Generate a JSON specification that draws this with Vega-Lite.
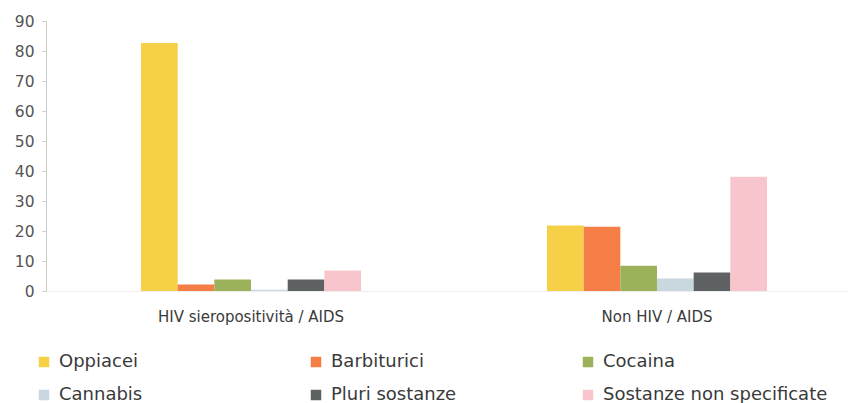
{
  "$schema": "https://vega.github.io/schema/vega-lite/v6.json",
  "autosize": "none",
  "width": 816,
  "height": 270,
  "padding": {"left": 46, "top": 21, "right": 0, "bottom": 112},
  "background": "white",
  "config": {
    "view": {"stroke": null},
    "font": "DejaVu Sans"
  },
  "data": {
    "values": [
      {"gruppo": "HIV sieropositività / AIDS", "sostanza": "Oppiacei", "valore": 82.7},
      {"gruppo": "HIV sieropositività / AIDS", "sostanza": "Barbiturici", "valore": 2.2},
      {"gruppo": "HIV sieropositività / AIDS", "sostanza": "Cocaina", "valore": 3.8},
      {"gruppo": "HIV sieropositività / AIDS", "sostanza": "Cannabis", "valore": 0.4},
      {"gruppo": "HIV sieropositività / AIDS", "sostanza": "Pluri sostanze", "valore": 3.8},
      {"gruppo": "HIV sieropositività / AIDS", "sostanza": "Sostanze non specificate", "valore": 6.8},
      {"gruppo": "Non HIV / AIDS", "sostanza": "Oppiacei", "valore": 21.8},
      {"gruppo": "Non HIV / AIDS", "sostanza": "Barbiturici", "valore": 21.4},
      {"gruppo": "Non HIV / AIDS", "sostanza": "Cocaina", "valore": 8.4},
      {"gruppo": "Non HIV / AIDS", "sostanza": "Cannabis", "valore": 4.2},
      {"gruppo": "Non HIV / AIDS", "sostanza": "Pluri sostanze", "valore": 6.2},
      {"gruppo": "Non HIV / AIDS", "sostanza": "Sostanze non specificate", "valore": 38.1}
    ]
  },
  "mark": {"type": "bar"},
  "encoding": {
    "x": {
      "field": "gruppo",
      "type": "nominal",
      "sort": null,
      "scale": {"paddingInner": 0.458, "paddingOuter": 0.234},
      "axis": {
        "title": null,
        "labelAngle": 0,
        "labelFontSize": 15,
        "labelColor": "#3a3a3a",
        "labelPadding": 18,
        "labelLimit": 400,
        "ticks": false,
        "domainColor": "#eeeeee",
        "labelFont": "DejaVu Sans"
      }
    },
    "xOffset": {
      "field": "sostanza",
      "type": "nominal",
      "sort": ["Oppiacei", "Barbiturici", "Cocaina", "Cannabis", "Pluri sostanze", "Sostanze non specificate"],
      "scale": {"paddingInner": 0, "paddingOuter": 0}
    },
    "y": {
      "field": "valore",
      "type": "quantitative",
      "scale": {"domain": [0, 90], "nice": false},
      "axis": {
        "title": null,
        "values": [0, 10, 20, 30, 40, 50, 60, 70, 80, 90],
        "grid": false,
        "labelFontSize": 15.5,
        "labelColor": "#555555",
        "labelPadding": 8,
        "tickSize": 4,
        "tickColor": "#cccccc",
        "domainColor": "#cccccc",
        "labelFont": "DejaVu Sans"
      }
    },
    "color": {
      "field": "sostanza",
      "type": "nominal",
      "sort": ["Oppiacei", "Barbiturici", "Cocaina", "Cannabis", "Pluri sostanze", "Sostanze non specificate"],
      "scale": {
        "domain": ["Oppiacei", "Barbiturici", "Cocaina", "Cannabis", "Pluri sostanze", "Sostanze non specificate"],
        "range": ["#F6D047", "#F47E45", "#9BB25B", "#C9D7DE", "#5F6263", "#F7C5CB"]
      },
      "legend": {
        "title": null,
        "orient": "none",
        "legendX": -11,
        "legendY": 332,
        "direction": "horizontal",
        "columns": 3,
        "gridAlign": "all",
        "columnPadding": 23,
        "rowPadding": 15,
        "symbolType": "square",
        "symbolSize": 110,
        "symbolStrokeWidth": 0,
        "labelFontSize": 18,
        "labelColor": "#3a3a3a",
        "labelOffset": 6,
        "labelFont": "DejaVu Sans",
        "labelLimit": 400
      }
    }
  }
}
